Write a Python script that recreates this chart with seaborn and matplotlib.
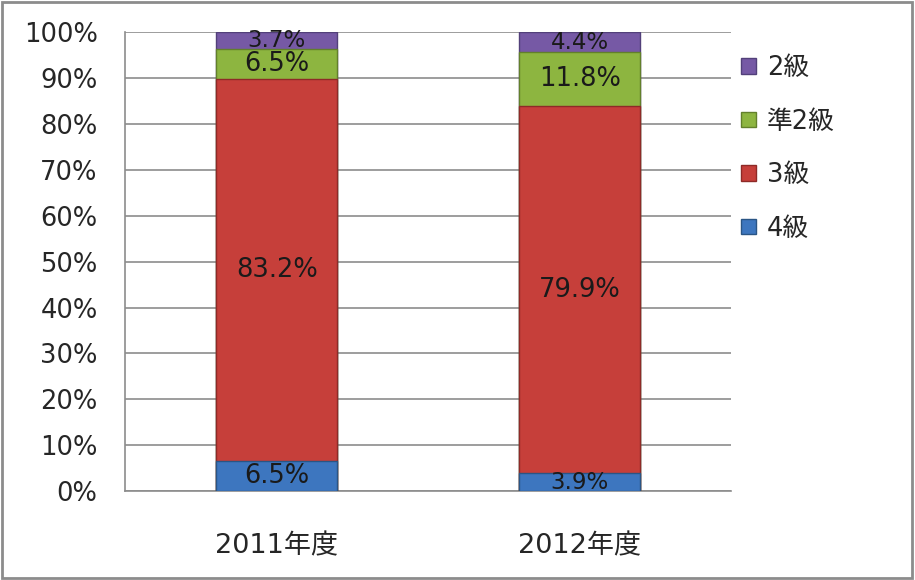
import pandas as pd
import seaborn as sns
import matplotlib.pyplot as plt
from matplotlib.patches import Patch, Rectangle

# values (percent of students)
years = ["2011年度", "2012年度"]
grades = ["4級", "3級", "準2級", "2級"]
grade4 = [6.5, 3.9]
grade3 = [83.2, 79.9]
pre2 = [6.5, 11.8]
grade2 = [3.7, 4.4]
yticks = [0, 10, 20, 30, 40, 50, 60, 70, 80, 90, 100]

colors = {"4級": "#3D76BF", "3級": "#C63F3A", "準2級": "#8DB540", "2級": "#7659A5"}
edges = {"4級": "#2A5585", "3級": "#8E2A27", "準2級": "#62802B", "2級": "#52407A"}

sns.set_style("white")
plt.rcParams["font.family"] = ["DejaVu Sans", "Noto Sans CJK JP"]

# long table with cumulative tops for stacking
rows = []
for i, year in enumerate(years):
    vals = [grade4[i], grade3[i], pre2[i], grade2[i]]
    bottom = 0
    for g, v in zip(grades, vals):
        rows.append({"year": year, "grade": g, "value": v,
                     "bottom": bottom, "top": bottom + v})
        bottom += v
df = pd.DataFrame(rows)

fig = plt.figure(figsize=(9.15, 5.8), dpi=100)
ax = fig.add_axes([0.137, 0.153, 0.662, 0.792])

# draw tallest first so lower segments sit on top of it
for g in reversed(grades):
    sub = df[df["grade"] == g]
    sns.barplot(sub, x="year", y="top", order=years, color=colors[g],
                saturation=1, width=0.4, edgecolor=edges[g], linewidth=1,
                ax=ax, zorder=3)

# data labels in the middle of each segment (thin segments get a smaller font)
for _, r in df.iterrows():
    xi = years.index(r["year"])
    size = 18.5 if r["value"] > 6 else 16.5
    ax.text(xi, (r["bottom"] + r["top"]) / 2, f"{r['value']:.1f}%",
            ha="center", va="center", fontsize=size, color="#1a1a1a", zorder=5)

ax.set_ylim(0, 100)
ax.set_xlim(-0.5, 1.5)
ax.set_yticks(yticks)
ax.set_yticklabels([f"{t}%" for t in yticks], fontsize=18.5)
ax.yaxis.grid(True, color="#8c8c8c", linewidth=1.2)
ax.set_axisbelow(True)
ax.set_xlabel("")
ax.set_ylabel("")
ax.tick_params(axis="x", labelsize=19.5, length=0, pad=30)
ax.tick_params(axis="y", length=8, color="#8c8c8c", width=1.2, pad=12)
ax.set_xticks([-0.5, 0.5, 1.5], minor=True)
ax.tick_params(axis="x", which="minor", length=8, color="#8c8c8c", width=1.2)
for s in ["top", "right"]:
    ax.spines[s].set_visible(False)
for s in ["left", "bottom"]:
    ax.spines[s].set_color("#8c8c8c")
    ax.spines[s].set_linewidth(1.2)

handles = [Patch(facecolor=colors[g], edgecolor=edges[g], label=g)
           for g in reversed(grades)]
fig.legend(handles=handles, loc="upper left", bbox_to_anchor=(0.785, 0.945),
           frameon=False, fontsize=18.5, handlelength=0.55, handleheight=0.55,
           handletextpad=0.45, labelspacing=1.07)

# outer frame around the whole chart
fig.patches.append(Rectangle((0.002, 0.004), 0.995, 0.992, transform=fig.transFigure,
                             fill=False, edgecolor="#8c8c8c", linewidth=2))

plt.savefig("out.png", format="png", dpi=100)
